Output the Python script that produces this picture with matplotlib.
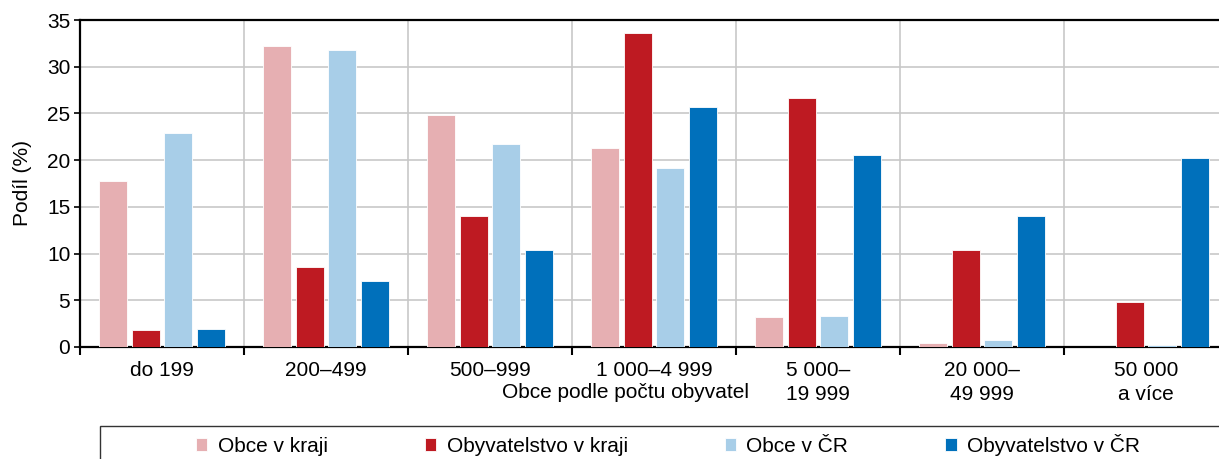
import numpy as np
import matplotlib
matplotlib.use('Agg')
import matplotlib.pyplot as plt
from matplotlib.patches import Rectangle

plt.rcParams['font.family'] = ['Liberation Sans', 'DejaVu Sans']

categories = ['do 199', '200–499', '500–999', '1 000–4 999',
              '5 000–\n19 999', '20 000–\n49 999', '50 000\na více']
obce_kraj = [17.8, 32.2, 24.8, 21.3, 3.2, 0.4, 0.05]
obyv_kraj = [1.8, 8.6, 14.0, 33.6, 26.7, 10.4, 4.8]
obce_cr = [22.9, 31.8, 21.7, 19.2, 3.3, 0.7, 0.25]
obyv_cr = [1.9, 7.1, 10.4, 25.7, 20.5, 14.0, 20.2]

series = [('Obce v kraji', obce_kraj, '#E6AFB2'),
          ('Obyvatelstvo v kraji', obyv_kraj, '#BE1A22'),
          ('Obce v ČR', obce_cr, '#A8CEE8'),
          ('Obyvatelstvo v ČR', obyv_cr, '#0070BB')]

fig = plt.figure(figsize=(12.19, 4.59), dpi=100)
ax = fig.add_axes([80/1219, 1-347/459, 1148/1219, 327/459])

x = np.arange(len(categories))
step, w = 0.198, 0.17
for i, (name, vals, col) in enumerate(series):
    ax.bar(x + (i - 1.5)*step, vals, w, color=col, label=name,
           edgecolor='white', linewidth=0.6, zorder=3)

ax.set_xlim(-0.5, len(categories) - 0.5)
ax.set_ylim(0, 35)
ax.set_yticks(range(0, 36, 5))
ax.set_xticks(np.arange(-0.5, len(categories)), labels=[])
ax.set_xticks(x, labels=categories, minor=True)
ax.tick_params(axis='x', which='minor', length=0, labelsize=15, pad=10)
ax.tick_params(axis='x', which='major', length=6, width=1.5, direction='out')
ax.tick_params(axis='y', length=4, width=1.2, labelsize=15, pad=3)
for lab in ax.get_xticklabels(minor=True):
    lab.set_linespacing(1.35)
ax.grid(True, which='major', color='#c8c8c8', linewidth=1.2, zorder=0)
for s in ['left', 'bottom', 'top']:
    ax.spines[s].set_linewidth(1.6)
    ax.spines[s].set_color('black')
ax.spines['right'].set_color('#c8c8c8')

ax.set_ylabel('Podíl (%)', fontsize=15, va='center')
ax.yaxis.set_label_coords(-(80-23)/1148, 0.5)
ax.set_xlabel('Obce podle počtu obyvatel', fontsize=15)
ax.xaxis.set_label_coords((626-80)/1148, -(393-347)/327)
ax.xaxis.label.set_va('center')

# legend frame runs off the bottom/right edge like in the source
fig.patches.append(Rectangle((100/1219, -0.2), 1.2, 0.2 + 1-426/459,
                             transform=fig.transFigure, fill=False,
                             edgecolor='#333333', linewidth=1.0))
fig.legend(loc='center', bbox_to_anchor=(668/1219, 1-445/459), ncol=4,
           fontsize=15, frameon=False, handlelength=0.55, handleheight=0.55,
           handletextpad=0.5, columnspacing=4.65, borderaxespad=0)

fig.savefig('out.png', dpi=100)
